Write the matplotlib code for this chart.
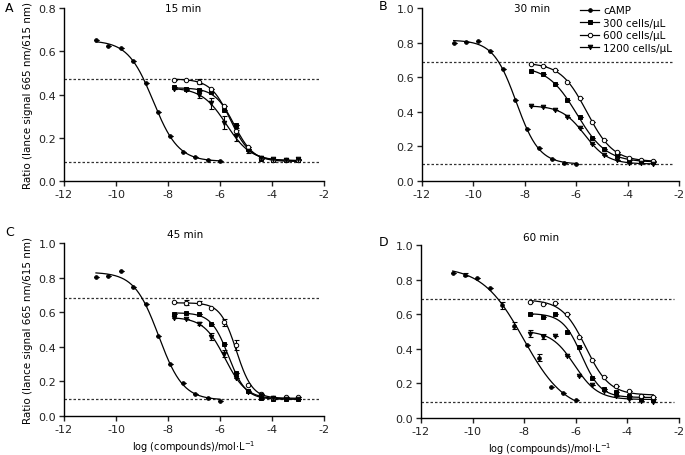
import numpy as np
import matplotlib
matplotlib.use("Agg")
import matplotlib.pyplot as plt
from matplotlib.lines import Line2D

plt.rcParams["font.family"] = ["DejaVu Sans"]
plt.rcParams["axes.unicode_minus"] = False

# log concentrations (3-fold dilutions)
x_camp = [-10.77, -10.29, -9.82, -9.34, -8.86, -8.39, -7.91, -7.43, -6.95, -6.48, -6.0]
x_cmpd = [-7.77, -7.29, -6.82, -6.34, -5.86, -5.39, -4.91, -4.43, -3.95, -3.48, -3.0]

titles = ["15 min", "30 min", "45 min", "60 min"]
letters = ["A", "B", "C", "D"]
baselines = [(0.47, 0.09), (0.69, 0.10), (0.68, 0.10), (0.69, 0.09)]
ymaxs = [0.8, 1.0, 1.0, 1.0]

# 15 min
camp_15 = [0.652, 0.622, 0.614, 0.555, 0.451, 0.317, 0.208, 0.134, 0.112, 0.097, 0.094]
c300_15 = [0.435, 0.425, 0.420, 0.410, 0.330, 0.260, 0.150, 0.100, 0.098, 0.095, 0.095]
c600_15 = [0.468, 0.467, 0.460, 0.425, 0.345, 0.230, 0.155, 0.105, 0.098, 0.097, 0.097]
c1200_15 = [0.425, 0.420, 0.400, 0.360, 0.270, 0.210, 0.140, 0.105, 0.100, 0.095, 0.100]
# 30 min
camp_30 = [0.797, 0.803, 0.807, 0.751, 0.647, 0.470, 0.302, 0.189, 0.129, 0.106, 0.098]
c300_30 = [0.638, 0.618, 0.559, 0.466, 0.370, 0.249, 0.183, 0.148, 0.123, 0.118, 0.110]
c600_30 = [0.674, 0.663, 0.642, 0.572, 0.478, 0.340, 0.237, 0.166, 0.135, 0.121, 0.116]
c1200_30 = [0.432, 0.428, 0.412, 0.370, 0.308, 0.212, 0.152, 0.121, 0.102, 0.102, 0.100]
# 45 min
camp_45 = [0.806, 0.812, 0.837, 0.745, 0.645, 0.463, 0.301, 0.192, 0.129, 0.106, 0.088]
c300_45 = [0.589, 0.597, 0.587, 0.534, 0.415, 0.246, 0.144, 0.104, 0.096, 0.100, 0.100]
c600_45 = [0.660, 0.655, 0.655, 0.626, 0.543, 0.409, 0.182, 0.130, 0.102, 0.111, 0.107]
c1200_45 = [0.568, 0.559, 0.534, 0.457, 0.361, 0.217, 0.138, 0.121, 0.104, 0.100, 0.096]
# 60 min
camp_60 = [0.838, 0.829, 0.811, 0.750, 0.651, 0.534, 0.420, 0.349, 0.179, 0.143, 0.102]
c300_60 = [0.601, 0.586, 0.601, 0.497, 0.408, 0.229, 0.166, 0.148, 0.127, 0.110, 0.110]
c600_60 = [0.672, 0.657, 0.663, 0.603, 0.470, 0.335, 0.237, 0.185, 0.158, 0.129, 0.121]
c1200_60 = [0.486, 0.470, 0.476, 0.360, 0.245, 0.191, 0.154, 0.127, 0.108, 0.100, 0.094]

# visible error bars (SEM), zero where hidden by the marker
err_1200_15 = [0, 0, 0.015, 0.025, 0.03, 0.025, 0.01, 0, 0, 0, 0]
err_600_15 = [0, 0, 0.01, 0, 0, 0.015, 0, 0, 0, 0, 0]
err_600_45 = [0, 0.015, 0.01, 0, 0.02, 0.03, 0, 0, 0, 0, 0]
err_1200_45 = [0, 0, 0.01, 0.02, 0.02, 0, 0, 0, 0, 0, 0]
err_camp_60 = [0, 0.01, 0, 0, 0.02, 0.02, 0, 0.02, 0, 0, 0]
err_1200_60 = [0.02, 0.015, 0, 0, 0, 0, 0, 0, 0, 0, 0]
zero = [0] * 11

panels = [
    [(camp_15, zero), (c300_15, zero), (c600_15, err_600_15), (c1200_15, err_1200_15)],
    [(camp_30, zero), (c300_30, zero), (c600_30, zero), (c1200_30, zero)],
    [(camp_45, zero), (c300_45, zero), (c600_45, err_600_45), (c1200_45, err_1200_45)],
    [(camp_60, err_camp_60), (c300_60, zero), (c600_60, zero), (c1200_60, err_1200_60)],
]
labels = ["cAMP", "300 cells/\u03bcL", "600 cells/\u03bcL", "1200 cells/\u03bcL"]
styles = [
    dict(marker="o", ms=2.6, mfc="black"),
    dict(marker="s", ms=3.0, mfc="black"),
    dict(marker="o", ms=3.2, mfc="white"),
    dict(marker="v", ms=3.3, mfc="black"),
]


def model(x, p):
    bottom, top, logic, h = p
    return bottom + (top - bottom) / (1 + 10 ** ((x - logic) * h))


def fit4pl(x, y):
    # small Levenberg-Marquardt fit of a 4-parameter logistic
    top, bottom = np.mean(y[:2]), np.mean(y[-2:])
    mid = (top + bottom) / 2
    p = np.array([bottom, top, x[np.argmin(abs(y - mid))], 1.0])
    lam = 1e-2
    sse = lambda q: np.sum((y - model(x, q)) ** 2)
    for _ in range(300):
        r = y - model(x, p)
        J = np.zeros((len(x), 4))
        for k in range(4):
            d = np.zeros(4)
            d[k] = 1e-6
            J[:, k] = (model(x, p + d) - model(x, p - d)) / 2e-6
        A = J.T @ J
        g = J.T @ r
        dp = np.linalg.solve(A + lam * np.diag(np.diag(A)) + 1e-12 * np.eye(4), g)
        if sse(p + dp) < sse(p):
            p = p + dp
            lam *= 0.3
        else:
            lam *= 10
    return p


fig = plt.figure(figsize=(6.85, 4.56), dpi=100)
rects = [
    [64 / 685, 1 - 182 / 456, 260 / 685, 173 / 456],
    [422 / 685, 1 - 182 / 456, 257 / 685, 173 / 456],
    [64 / 685, 1 - 417 / 456, 260 / 685, 173 / 456],
    [421 / 685, 1 - 419 / 456, 258 / 685, 173 / 456],
]
title_pos = [(0.46, 1.0), (0.43, 1.0), (0.465, 1.05), (0.465, 1.045)]
letter_pos = [(5, 8), (379, 6), (5, 233), (379, 243)]

for i in range(4):
    ax = fig.add_axes(rects[i])
    lo, hi = baselines[i]
    for yv in (lo, hi):
        ax.plot([-12, -2.2], [yv, yv], ls=(0, (2, 1.6)), lw=0.9, color="#333333", zorder=1)
    for j, (vals, err) in enumerate(panels[i]):
        xs = np.array(x_camp if j == 0 else x_cmpd)
        ys = np.array(vals)
        p = fit4pl(xs, ys)
        xf = np.linspace(xs.min(), xs.max(), 200)
        ax.plot(xf, model(xf, p), color="black", lw=0.9, zorder=2)
        ax.errorbar(xs, ys, yerr=err, fmt="none", ecolor="black", elinewidth=0.8,
                    capsize=1.8, capthick=0.8, zorder=3)
        ax.plot(xs, ys, ls="none", color="black", mec="black", mew=0.7, zorder=4, **styles[j])
    ax.set_xlim(-12, -2)
    ax.set_ylim(0, ymaxs[i])
    ax.set_xticks(np.arange(-12, -1, 2))
    ax.set_yticks(np.arange(0, ymaxs[i] + 0.01, 0.2))
    ax.set_yticklabels(["%.1f" % v for v in np.arange(0, ymaxs[i] + 0.01, 0.2)])
    for s in ("top", "right"):
        ax.spines[s].set_visible(False)
    for s in ("left", "bottom"):
        ax.spines[s].set_linewidth(1.0)
    ax.tick_params(direction="out", length=3.5, width=1.0, labelsize=8, pad=2, colors="#222222")
    ax.text(title_pos[i][0], title_pos[i][1], titles[i], transform=ax.transAxes,
            ha="center", va="center", fontsize=7.5)
    fig.text(letter_pos[i][0] / 685, 1 - letter_pos[i][1] / 456, letters[i],
             ha="left", va="center", fontsize=9)
    if i in (0, 2):
        ax.set_ylabel("Ratio (lance signal 665 nm/615 nm)", fontsize=7.5, labelpad=4)
    if i in (2, 3):
        ax.set_xlabel(r"log (compounds)/mol$\cdot$L$^{-1}$", fontsize=7, labelpad=3)
    if i == 1:
        handles = [Line2D([0], [0], color="black", lw=0.9, mec="black", mew=0.7, **st)
                   for st in styles]
        ax.legend(handles, labels, loc="upper right", bbox_to_anchor=(0.99, 1.04),
                  frameon=False, fontsize=7.5, handlelength=1.8, handletextpad=0.4,
                  labelspacing=0.25, borderaxespad=0)

fig.savefig("out.png", dpi=100)
